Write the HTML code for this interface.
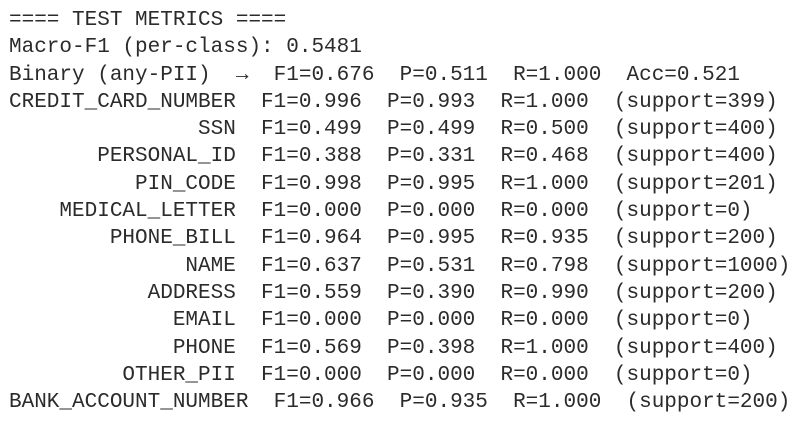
<!DOCTYPE html>
<html><head><meta charset="utf-8"><style>
html,body{margin:0;padding:0;background:#fff;width:811px;height:421px;overflow:hidden}
pre{margin:0;padding:7px 0 0 9px;font-family:"Liberation Mono","DejaVu Sans Mono",monospace;font-size:21px;line-height:27.3px;color:#2b2b2b}
pre span{display:block;height:27.3px;line-height:27.3px;white-space:pre;overflow:visible}
</style></head><body>
<pre><span>==== TEST METRICS ====</span><span>Macro-F1 (per-class): 0.5481</span><span>Binary (any-PII)  →  F1=0.676  P=0.511  R=1.000  Acc=0.521</span><span>CREDIT_CARD_NUMBER  F1=0.996  P=0.993  R=1.000  (support=399)</span><span>               SSN  F1=0.499  P=0.499  R=0.500  (support=400)</span><span>       PERSONAL_ID  F1=0.388  P=0.331  R=0.468  (support=400)</span><span>          PIN_CODE  F1=0.998  P=0.995  R=1.000  (support=201)</span><span>    MEDICAL_LETTER  F1=0.000  P=0.000  R=0.000  (support=0)</span><span>        PHONE_BILL  F1=0.964  P=0.995  R=0.935  (support=200)</span><span>              NAME  F1=0.637  P=0.531  R=0.798  (support=1000)</span><span>           ADDRESS  F1=0.559  P=0.390  R=0.990  (support=200)</span><span>             EMAIL  F1=0.000  P=0.000  R=0.000  (support=0)</span><span>             PHONE  F1=0.569  P=0.398  R=1.000  (support=400)</span><span>         OTHER_PII  F1=0.000  P=0.000  R=0.000  (support=0)</span><span>BANK_ACCOUNT_NUMBER  F1=0.966  P=0.935  R=1.000  (support=200)</span></pre>
</body></html>
